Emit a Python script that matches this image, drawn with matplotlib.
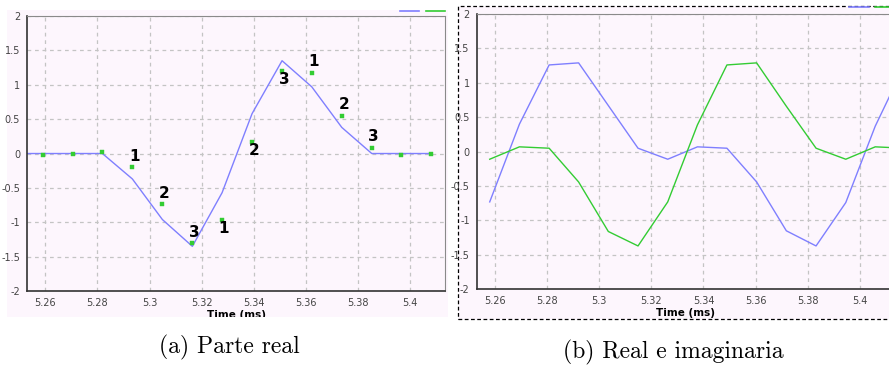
import matplotlib
matplotlib.use("Agg")
import matplotlib.pyplot as plt
from matplotlib.lines import Line2D
from matplotlib.patches import Rectangle

# ── data ──────────────────────────────────────────
# (a) parte real: samples (ms), reconstructed line and received points
t_a = [5.2476, 5.2590, 5.2705, 5.2819, 5.2934, 5.3049, 5.3164, 5.3278,
       5.3393, 5.3508, 5.3622, 5.3737, 5.3852, 5.3966, 5.4081]
real_a = [0, 0, 0, 0, -0.37, -0.96, -1.35, -0.57,
          0.58, 1.35, 0.97, 0.38, 0, 0, 0]
dots_a = [0, -0.015, -0.01, 0.024, -0.20, -0.736, -1.307, -0.96,
          0.17, 1.206, 1.172, 0.552, 0.082, -0.015, -0.005]
# digit labels next to points 4..12 (+1 above, -1 below)
label_idx = [4, 5, 6, 7, 8, 9, 10, 11, 12]
label_txt = ["1", "2", "3", "1", "2", "3", "1", "2", "3"]
label_side = [1, 1, 1, -1, -1, -1, 1, 1, 1]

# (b) real e imaginaria
t_b = [5.2580, 5.2694, 5.2808, 5.2921, 5.3035, 5.3149, 5.3263, 5.3377,
       5.3490, 5.3604, 5.3718, 5.3832, 5.3946, 5.4059, 5.4173]
real_b = [-0.73, 0.40, 1.26, 1.29, 0.67, 0.05, -0.11, 0.07,
          0.05, -0.44, -1.15, -1.37, -0.74, 0.37, 1.27]
imag_b = [-0.11, 0.07, 0.05, -0.44, -1.16, -1.37, -0.73, 0.39,
          1.26, 1.29, 0.66, 0.05, -0.11, 0.07, 0.05]

xticks = [5.26, 5.28, 5.30, 5.32, 5.34, 5.36, 5.38, 5.40]
xtick_labels = ["5.26", "5.28", "5.3", "5.32", "5.34", "5.36", "5.38", "5.4"]
yticks = [-2, -1.5, -1, -0.5, 0, 0.5, 1, 1.5, 2]
ytick_labels = ["-2", "-1.5", "-1", "-0.5", "0", "0.5", "1", "1.5", "2"]

BLUE = "#7f7fff"
GREEN = "#33cc33"
PINK = "#fdf6fd"

fig = plt.figure(figsize=(8.89, 3.65), dpi=100)

# pink panel behind (a), dashed frame for (b)
bg_a = Rectangle((0.0079, 0.1315), 0.496, 0.841, transform=fig.transFigure,
                 facecolor=PINK, edgecolor="none", zorder=-5)
fig.patches.append(bg_a)
fig.patches.append(Rectangle((0.5155, 0.1252), 0.6, 0.8584, transform=fig.transFigure,
                             facecolor=PINK, edgecolor="black", linestyle=(0, (3, 2)),
                             linewidth=0.9, zorder=-5))


def style_axes(ax, leg_y):
    ax.set_facecolor(PINK)
    ax.set_xlim(5.2530, 5.4133)
    ax.set_ylim(-2, 2)
    ax.set_xticks(xticks)
    ax.set_xticklabels(xtick_labels)
    ax.set_yticks(yticks)
    ax.set_yticklabels(ytick_labels)
    ax.tick_params(length=0, labelsize=7, labelcolor="#444444", pad=5)
    ax.grid(True, color="#c4c4c4", linestyle=(0, (3, 3)), linewidth=0.9)
    ax.set_axisbelow(True)
    for s in ("top", "right"):
        ax.spines[s].set_color("#8a8a8a")
    for s in ("left", "bottom"):
        ax.spines[s].set_color("#333333")
        ax.spines[s].set_linewidth(1.2)
    ax.set_xlabel("Time (ms)", fontsize=7.5, fontweight="bold", labelpad=1.5)
    handles = [Line2D([], [], color=BLUE, lw=1.2), Line2D([], [], color=GREEN, lw=1.2)]
    ax.legend(handles, ["", ""], ncol=2, loc="lower right", bbox_to_anchor=(1.0, leg_y),
              frameon=False, handlelength=1.4, handletextpad=0, columnspacing=0.45,
              borderaxespad=0.0, borderpad=0)


# ── (a) ───────────────────────────────────────────
ax1 = fig.add_axes([0.0304, 0.2027, 0.4702, 0.7534])
style_axes(ax1, 0.989)
ax1.plot(t_a, real_a, color=BLUE, lw=1)
ax1.plot(t_a, dots_a, linestyle="none", marker="s", markersize=2.6,
         markerfacecolor=GREEN, markeredgecolor=GREEN, markeredgewidth=0.3, zorder=3)
for i, txt, side in zip(label_idx, label_txt, label_side):
    ax1.annotate(txt, (t_a[i], dots_a[i]), textcoords="offset points",
                 xytext=(1.4, 7.9 if side > 0 else -6.2), ha="center", va="center",
                 fontsize=11, fontweight="bold", color="black")
ax1.xaxis.label.set_clip_path(bg_a)

# ── (b) ───────────────────────────────────────────
ax2 = fig.add_axes([0.5362, 0.2074, 0.47, 0.7542])
style_axes(ax2, 0.996)
ax2.plot(t_b, real_b, color=BLUE, lw=1)
ax2.plot(t_b, imag_b, color=GREEN, lw=1)

# ── captions ──────────────────────────────────────
fig.text(0.2585, 0.047, "(a) Parte real", fontsize=17, family="cmr10",
         ha="center", va="center")
fig.text(0.7573, 0.035, "(b) Real e imaginaria", fontsize=17, family="cmr10",
         ha="center", va="center")

fig.savefig("out.png", dpi=100)
